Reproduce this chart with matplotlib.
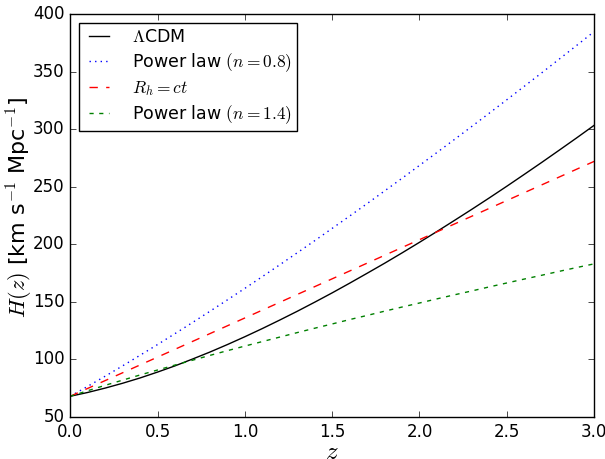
import numpy as np
import matplotlib
matplotlib.use("Agg")
import matplotlib.pyplot as plt

# values (H in km/s/Mpc)
z = [0.0, 0.1, 0.2, 0.3, 0.4, 0.5, 0.6, 0.7, 0.8, 0.9, 1.0,
     1.1, 1.2, 1.3, 1.4, 1.5, 1.6, 1.7, 1.8, 1.9, 2.0,
     2.1, 2.2, 2.3, 2.4, 2.5, 2.6, 2.7, 2.8, 2.9, 3.0]

H_lcdm = [68.0, 71.3, 75.1, 79.3, 83.9, 89.0, 94.4, 100.3, 106.4, 112.9, 119.7,
          126.8, 134.2, 141.8, 149.7, 157.8, 166.2, 174.8, 183.5, 192.5, 201.7,
          211.1, 220.7, 230.4, 240.3, 250.4, 260.7, 271.1, 281.7, 292.4, 303.3]

H_pl08 = [68.0, 76.6, 85.4, 94.4, 103.6, 112.9, 122.4, 132.0, 141.8, 151.7, 161.7,
          171.9, 182.2, 192.6, 203.1, 213.8, 224.5, 235.3, 246.3, 257.3, 268.5,
          279.7, 291.0, 302.4, 313.9, 325.5, 337.2, 348.9, 360.8, 372.7, 384.7]

H_rhct = [68.0, 74.8, 81.6, 88.4, 95.2, 102.0, 108.8, 115.6, 122.4, 129.2, 136.0,
          142.8, 149.6, 156.4, 163.2, 170.0, 176.8, 183.6, 190.4, 197.2, 204.0,
          210.8, 217.6, 224.4, 231.2, 238.0, 244.8, 251.6, 258.4, 265.2, 272.0]

H_pl14 = [68.0, 72.8, 77.5, 82.0, 86.5, 90.8, 95.1, 99.3, 103.5, 107.6, 111.6,
          115.5, 119.4, 123.3, 127.1, 130.8, 134.6, 138.2, 141.9, 145.5, 149.0,
          152.6, 156.1, 159.5, 163.0, 166.4, 169.8, 173.1, 176.5, 179.8, 183.0]

plt.style.use("classic")
plt.rcParams["mathtext.fontset"] = "cm"
plt.rcParams["font.family"] = ["DejaVu Sans"]

fig = plt.figure(figsize=(6.05, 4.59), dpi=100, facecolor="white")
ax = fig.add_axes([0.116, 0.0915, 0.866, 0.878])

ax.plot(z, H_lcdm, color="k", lw=1.0, label=r"$\Lambda$CDM")
ax.plot(z, H_pl08, color="b", lw=1.0, ls=":", label=r"Power law $(n=0.8)$")
ax.plot(z, H_rhct, color="r", lw=1.0, ls="--", label=r"$R_h=ct$")
ax.plot(z, H_pl14, color="g", lw=1.0, dashes=(3, 4), label=r"Power law $(n=1.4)$")

ax.set_xlim(0, 3)
ax.set_ylim(50, 400)
ax.set_xticks(np.arange(0, 3.01, 0.5))
ax.set_yticks(np.arange(50, 401, 50))
ax.tick_params(labelsize=12)

ax.set_xlabel(r"$z$", fontsize=18)
ax.set_ylabel(r"$H(z)$ [km s$^{-1}$ Mpc$^{-1}$]", fontsize=16)
ax.xaxis.set_label_coords(0.5, -0.057)
ax.yaxis.set_label_coords(-0.068, 0.52)

ax.legend(loc="upper left", fontsize=12.5, frameon=True, fancybox=False,
          labelspacing=0.3, borderpad=0.3, handlelength=1.75, handletextpad=1.0)

fig.savefig("out.png", dpi=100, facecolor="white")
